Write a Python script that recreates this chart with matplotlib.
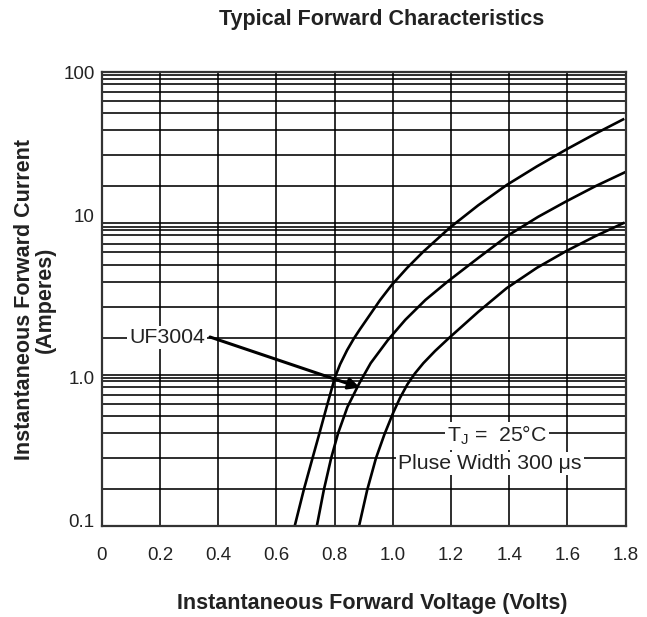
import matplotlib
matplotlib.use("Agg")
import matplotlib.pyplot as plt
from matplotlib.transforms import ScaledTranslation

plt.rcParams["font.family"] = ["Liberation Sans", "DejaVu Sans"]

# curves (volts, amperes)
v1 = [0.663, 0.694, 0.724, 0.748, 0.773, 0.801, 0.819, 0.843, 0.867, 0.887, 0.956, 0.996,
      1.049, 1.104, 1.196, 1.293, 1.392, 1.495, 1.598, 1.694, 1.791]
i1 = [0.10, 0.173, 0.28, 0.41, 0.615, 0.957, 1.17, 1.45, 1.74, 1.99, 3.10, 3.90,
      5.06, 6.46, 9.34, 13.1, 17.9, 23.7, 30.8, 38.8, 48.4]

v2 = [0.739, 0.763, 0.788, 0.812, 0.844, 0.885, 0.924, 0.983, 1.043, 1.112, 1.188, 1.294,
      1.399, 1.499, 1.595, 1.695, 1.798]
i2 = [0.10, 0.173, 0.28, 0.41, 0.61, 0.877, 1.19, 1.69, 2.30, 3.11, 4.11, 5.90,
      8.37, 11.0, 13.9, 17.5, 21.7]

v3 = [0.884, 0.912, 0.942, 0.971, 1.001, 1.025, 1.050, 1.076, 1.105, 1.145, 1.191, 1.293,
      1.391, 1.495, 1.597, 1.695, 1.792]
i3 = [0.10, 0.173, 0.28, 0.402, 0.558, 0.703, 0.861, 1.018, 1.19, 1.43, 1.73, 2.59,
      3.72, 5.07, 6.56, 8.19, 10.0]

x_ticks = [0, 0.2, 0.4, 0.6, 0.8, 1.0, 1.2, 1.4, 1.6, 1.8]
x_labels = ["0", "0.2", "0.4", "0.6", "0.8", "1.0", "1.2", "1.4", "1.6", "1.8"]
y_ticks = [0.1, 1, 10, 100]
y_labels = ["0.1", "1.0", "10", "100"]

# the printed grid is not quite logarithmic inside a decade
grid_mult = [1.75, 2.8, 4.1, 5.3, 6.4, 7.3, 8.3, 9.0, 9.5]

fig = plt.figure(figsize=(6.47, 6.17), dpi=100)
ax = fig.add_axes([0.1572, 0.1475, 0.8099, 0.7363])
ax.set_yscale("log")
ax.set_xlim(0, 1.8)
ax.set_ylim(0.1, 100)

# grid
for dec in [0.1, 1, 10]:
    for m in [1] + grid_mult:
        ax.axhline(dec * m, color="black", lw=1.15, zorder=1)
for x in x_ticks:
    ax.axvline(x, color="black", lw=1.15, zorder=1)

for v, i in [(v1, i1), (v2, i2), (v3, i3)]:
    ax.plot(v, i, color="black", lw=1.9, zorder=3, solid_joinstyle="round")

ax.set_xticks(x_ticks)
ax.set_xticklabels(x_labels)
ax.set_yticks(y_ticks)
ax.set_yticklabels(y_labels)
ax.minorticks_off()
ax.tick_params(length=0, labelsize=13.5, colors="#222222")
ax.tick_params(axis="x", pad=15)
ax.tick_params(axis="y", pad=5)
# the printed labels sit a little off their grid lines
for lab, dy in zip(ax.get_yticklabels(), [4.3, -2.2, 5.5, -0.8]):
    lab.set_transform(lab.get_transform() + ScaledTranslation(0, dy / 72, fig.dpi_scale_trans))
for s in ax.spines.values():
    s.set_linewidth(1.6)
    s.set_color("#333333")
    s.set_zorder(4)

box = dict(facecolor="white", edgecolor="none", pad=1.5)
ax.text(0.224, 1.75, "UF3004", fontsize=15.3, ha="center", va="center",
        color="#222222", bbox=box, zorder=5)
ax.annotate("", xy=(0.887, 0.82), xytext=(0.372, 1.77),
            arrowprops=dict(arrowstyle="-|>", color="black", lw=2.2,
                            mutation_scale=17, shrinkA=0, shrinkB=0),
            zorder=5)
ax.text(1.359, 0.394, r"$\mathregular{T_J}$ =  25°C", fontsize=15.3,
        ha="center", va="center", color="#222222", bbox=box, zorder=5)
ax.text(1.334, 0.26, "Pluse Width 300 μs", fontsize=15.3,
        ha="center", va="center", color="#222222", bbox=box, zorder=5)

fig.text(382 / 647, 1 - 20 / 617, "Typical Forward Characteristics",
         fontsize=15.5, fontweight="bold", ha="center", va="center", color="#222222")
fig.text(372 / 647, 1 - 603 / 617, "Instantaneous Forward Voltage (Volts)",
         fontsize=15.5, fontweight="bold", ha="center", va="center", color="#222222")
fig.text(35 / 647, 1 - 300 / 617, "Instantaneous Forward Current\n(Amperes)",
         fontsize=15.5, fontweight="bold", ha="center", va="center",
         rotation=90, color="#222222", linespacing=1.0)

fig.savefig("out.png", dpi=100)
